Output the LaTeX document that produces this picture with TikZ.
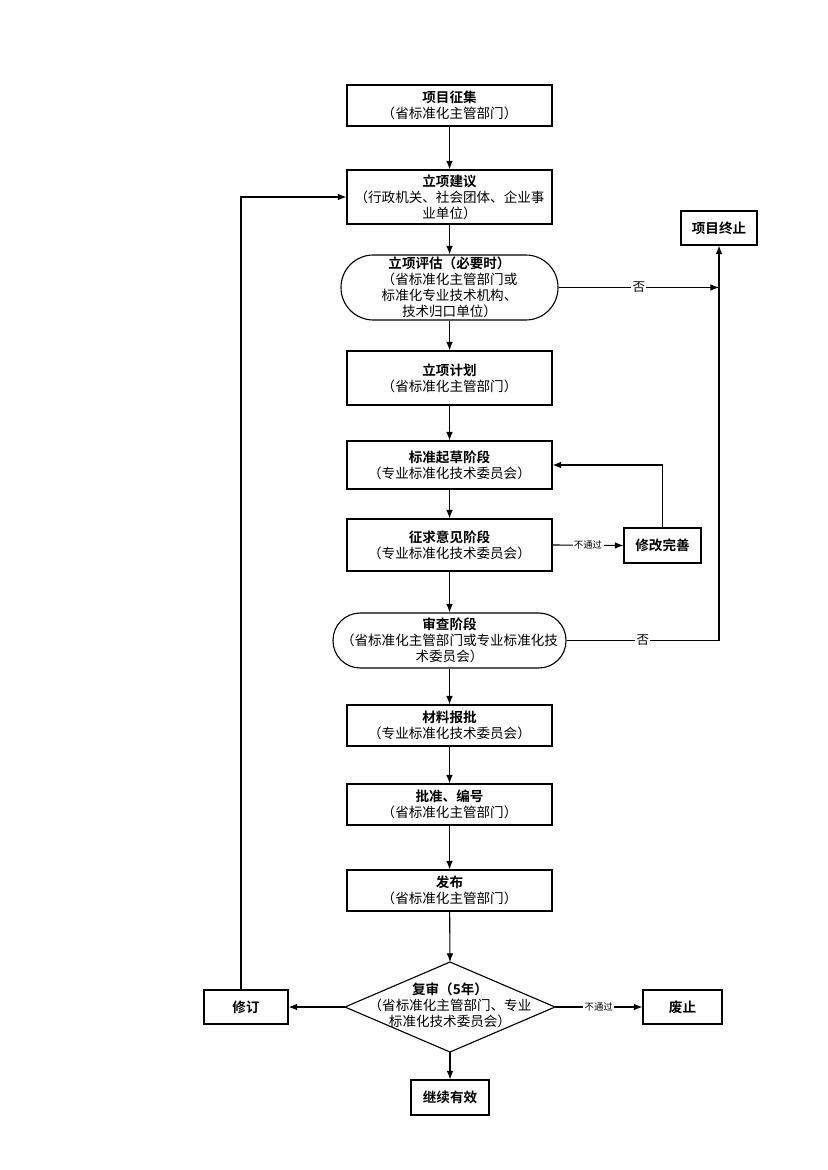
\documentclass[tikz,border=0pt]{standalone}
\usepackage{fontspec}
\setmainfont{Noto Sans CJK SC}[BoldFont={Noto Sans CJK SC Bold}]
\usetikzlibrary{arrows.meta}
\begin{document}
\begin{tikzpicture}[x=0.254mm,y=-0.254mm,
  >={Latex[length=2.2mm,width=1.7mm]},
  box/.style={draw, line width=0.8pt, align=center, inner sep=0pt, font=\fontsize{9.8}{11.6}\selectfont},
  size/.style 2 args={minimum width=#1*0.254mm, minimum height=#2*0.254mm},
  line/.style={line width=0.8pt},
  lab/.style={fill=white, inner sep=1pt, font=\fontsize{9}{10}\selectfont},
  slab/.style={fill=white, inner sep=1pt, font=\fontsize{6.8}{8}\selectfont}]
\useasboundingbox (0,0) rectangle (827,1170);
\fill[white] (0,0) rectangle (827,1170);

\node[box,size={205}{41}] (a) at (449.5,105.5) {\textbf{项目征集}\\（省标准化主管部门）};
\node[box,size={205}{54}] (b) at (449.5,197) {\textbf{立项建议}\\（行政机关、社会团体、企业事\\业单位）};
\node[box,size={76}{34}] (stop) at (719,228) {\textbf{项目终止}};
\node[box,size={217}{65},rounded corners=8.2mm] (c) at (449.5,287.5) {\textbf{立项评估（必要时）}\\（省标准化主管部门或\\标准化专业技术机构、\\技术归口单位）};
\node[box,size={205}{54}] (d) at (449.5,378) {\textbf{立项计划}\\（省标准化主管部门）};
\node[box,size={205}{48}] (e) at (449.5,465) {\textbf{标准起草阶段}\\（专业标准化技术委员会）};
\node[box,size={205}{52}] (f) at (449.5,545) {\textbf{征求意见阶段}\\（专业标准化技术委员会）};
\node[box,size={77}{35}] (g) at (662.5,545.5) {\textbf{修改完善}};
\node[box,size={233}{55},rounded corners=6.9mm] (h) at (449.5,640.5) {\textbf{审查阶段}\\（省标准化主管部门或专业标准化技\\术委员会）};
\node[box,size={205}{41}] (i) at (449.5,725.5) {\textbf{材料报批}\\（专业标准化技术委员会）};
\node[box,size={205}{41}] (j) at (449.5,804.5) {\textbf{批准、编号}\\（省标准化主管部门）};
\node[box,size={205}{41}] (k) at (449.5,890.5) {\textbf{发布}\\（省标准化主管部门）};

\coordinate (dT) at (450,962);
\coordinate (dL) at (345,1007);
\coordinate (dR) at (555,1007);
\coordinate (dB) at (450,1052);
\draw[line] (dT) -- (dR) -- (dB) -- (dL) -- cycle;
\node[box,draw=none] (rv) at (450,1005) {\textbf{复审（5年）}\\（省标准化主管部门、专业\\标准化技术委员会）};

\node[box,size={84}{34}] (rev) at (246,1007) {\textbf{修订}};
\node[box,size={79}{34}] (abol) at (682.5,1007) {\textbf{废止}};
\node[box,size={78}{35}] (cont) at (450,1097.5) {\textbf{继续有效}};

\draw[line,->] (a) -- (b);
\draw[line,->] (b) -- (c);
\draw[line,->] (c) -- (d);
\draw[line,->] (d) -- (e);
\draw[line,->] (e) -- (f);
\draw[line,->] (f) -- (h);
\draw[line,->] (h) -- (i);
\draw[line,->] (i) -- (j);
\draw[line,->] (j) -- (k);
\draw[line,->] (k) -- (dT);

\draw[line,->] (f.east) -- node[slab]{不通过} (g.west);
\draw[line,->] (g.north) |- (e.east);
\draw[line,->] (c.east) -- node[lab]{否} (c.east -| stop.south);
\draw[line,->] (h.east) -- node[lab]{否} (h.east -| stop.south) -- (stop.south);

\draw[line,->] (dL) -- (rev.east);
\draw[line,->] ([xshift=-5*0.254mm]rev.north) |- (b.west);
\draw[line,->] (dR) -- node[slab]{不通过} (abol.west);
\draw[line,->] (dB) -- (cont.north);
\end{tikzpicture}
\end{document}
